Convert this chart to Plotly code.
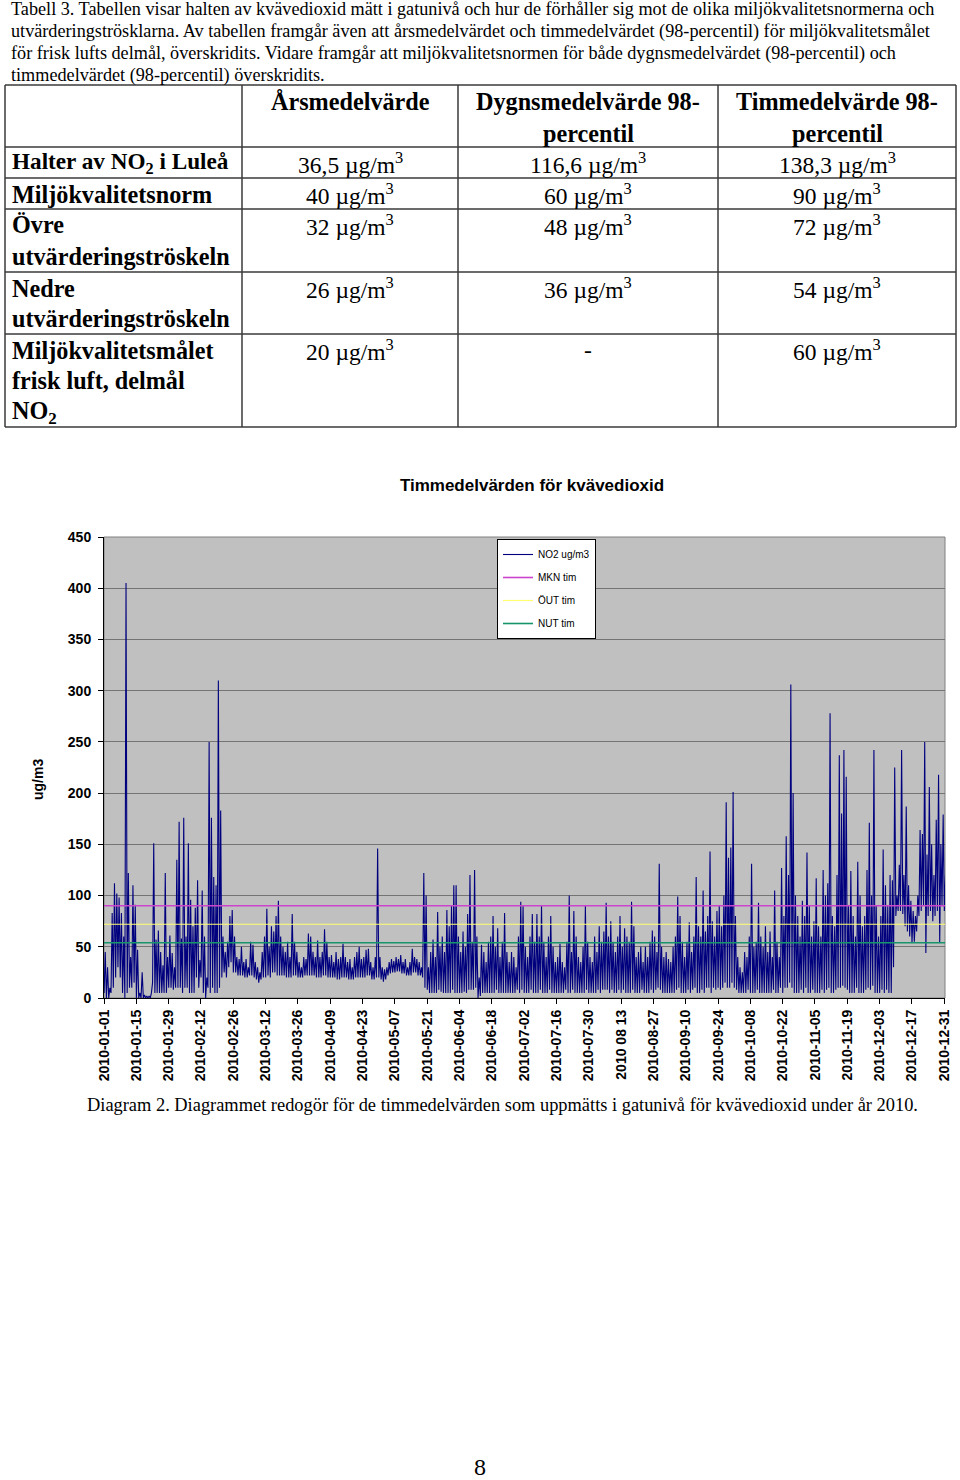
import pandas as pd
import plotly.graph_objects as go

# ---------------- data ----------------
START_DATE = "2010-01-01"
# daily maximum hourly NO2 (ug/m3), Jan 1 .. Dec 31
DAILY_MAX = [
    45, 30, 10, 83, 112, 102, 98,
    83, 60, 405, 122, 40, 110, 91,
    47, 5, 25, 3, 2, 2, 5,
    151, 57, 66, 45, 32, 122, 40,
    61, 44, 30, 135, 172, 58, 176,
    60, 151, 96, 70, 88, 115, 37,
    105, 60, 20, 250, 176, 118, 110,
    310, 183, 60, 45, 55, 80, 86,
    60, 40, 38, 50, 35, 38, 30,
    55, 52, 35, 30, 25, 45, 60,
    87, 50, 70, 65, 80, 95, 60,
    50, 45, 55, 40, 82, 55, 45,
    35, 30, 40, 38, 63, 60, 45,
    40, 56, 40, 45, 67, 55, 40,
    42, 35, 45, 38, 40, 53, 40,
    35, 38, 30, 40, 45, 50, 38,
    40, 47, 48, 35, 30, 40, 146,
    40, 30, 28, 30, 35, 38, 36,
    40, 38, 42, 35, 38, 30, 35,
    48, 40, 38, 35, 30, 122, 100,
    30, 45, 57, 40, 84, 50, 60,
    45, 86, 70, 90, 110, 110, 60,
    45, 65, 50, 82, 120, 55, 125,
    60, 20, 52, 45, 35, 55, 60,
    80, 50, 68, 40, 55, 83, 45,
    35, 45, 40, 30, 60, 94, 90,
    50, 40, 60, 82, 55, 82, 60,
    90, 55, 40, 60, 80, 50, 35,
    40, 53, 35, 30, 55, 100, 45,
    85, 60, 40, 35, 50, 90, 55,
    40, 35, 60, 45, 70, 55, 65,
    93, 60, 75, 55, 45, 60, 80,
    50, 68, 60, 55, 94, 70, 40,
    45, 50, 35, 50, 40, 55, 66,
    60, 45, 131, 50, 40, 45, 38,
    35, 50, 60, 99, 80, 55, 40,
    55, 74, 45, 60, 118, 70, 60,
    105, 65, 80, 143, 75, 60, 85,
    90, 70, 100, 191, 137, 147, 201,
    80, 40, 30, 25, 45, 40, 60,
    131, 50, 55, 93, 60, 50, 70,
    45, 65, 40, 105, 55, 40, 127,
    80, 158, 120, 306, 200, 100, 80,
    60, 95, 80, 142, 90, 60, 75,
    117, 70, 60, 125, 100, 112, 278,
    80, 70, 120, 237, 180, 242, 216,
    90, 124, 80, 60, 133, 100, 70,
    80, 125, 171, 100, 242, 90, 60,
    80, 145, 110, 90, 120, 115, 225,
    100, 130, 242, 120, 187, 110, 95,
    85, 80, 100, 164, 160, 250, 140,
    206, 150, 120, 174, 218, 150, 179,
    120,
]
# daily minimum hourly NO2 (ug/m3)
DAILY_MIN = [
    5, 0, 0, 5, 10, 20, 30,
    20, 5, 0, 5, 10, 10, 15,
    0, 0, 0, 0, 0, 0, 0,
    15, 5, 5, 5, 5, 5, 5,
    10, 10, 8, 10, 10, 10, 5,
    10, 10, 5, 5, 5, 20, 10,
    20, 5, 0, 10, 5, 10, 5,
    5, 10, 20, 25, 20, 30, 35,
    25, 25, 22, 22, 22, 20, 20,
    22, 22, 20, 18, 15, 18, 20,
    20, 22, 20, 25, 25, 22, 22,
    22, 22, 20, 20, 20, 22, 22,
    20, 20, 20, 22, 22, 22, 22,
    22, 20, 20, 20, 22, 22, 20,
    20, 20, 20, 18, 18, 20, 20,
    20, 18, 18, 18, 20, 20, 20,
    20, 20, 22, 22, 18, 18, 20,
    20, 18, 16, 18, 22, 24, 25,
    25, 26, 26, 24, 24, 22, 22,
    22, 25, 25, 22, 22, 20, 10,
    8, 5, 5, 5, 5, 8, 6,
    5, 5, 5, 5, 8, 5, 5,
    5, 5, 6, 5, 8, 8, 8,
    10, 0, 2, 5, 5, 5, 5,
    5, 5, 8, 5, 5, 5, 5,
    5, 5, 5, 5, 8, 5, 8,
    5, 5, 5, 8, 5, 5, 5,
    8, 5, 5, 5, 8, 5, 5,
    5, 5, 5, 5, 8, 5, 5,
    8, 5, 5, 5, 5, 5, 8,
    5, 5, 5, 5, 8, 5, 8,
    8, 8, 5, 8, 5, 5, 8,
    5, 8, 5, 5, 5, 8, 5,
    5, 5, 8, 5, 5, 5, 8,
    5, 8, 10, 8, 5, 5, 5,
    5, 5, 5, 8, 10, 5, 5,
    5, 8, 5, 8, 10, 5, 5,
    8, 5, 10, 10, 5, 10, 8,
    10, 8, 10, 15, 10, 10, 15,
    10, 8, 5, 5, 5, 5, 8,
    5, 5, 5, 8, 5, 5, 5,
    5, 5, 5, 8, 5, 5, 10,
    5, 10, 10, 15, 10, 5, 5,
    5, 8, 5, 10, 5, 5, 8,
    5, 5, 5, 8, 5, 8, 10,
    5, 5, 8, 10, 10, 12, 10,
    8, 5, 5, 5, 10, 5, 5,
    5, 8, 10, 8, 12, 5, 5,
    5, 8, 5, 8, 5, 5, 30,
    80, 85, 85, 82, 70, 65, 60,
    54, 55, 65, 80, 85, 90, 44,
    80, 85, 75, 80, 85, 54, 90,
    85,
]
SERIES_NAME = "NO2 ug/m3"
LIMIT_NAMES = ["MKN tim", "ÖUT tim", "NUT tim"]
LIMIT_VALUES = [90, 72, 54]
LIMIT_COLORS = ["#CC44CC", "#FFFF70", "#17956A"]
TICK_DATES = ["2010-01-01", "2010-01-15", "2010-01-29", "2010-02-12", "2010-02-26",
              "2010-03-12", "2010-03-26", "2010-04-09", "2010-04-23", "2010-05-07",
              "2010-05-21", "2010-06-04", "2010-06-18", "2010-07-02", "2010-07-16",
              "2010-07-30", "2010-08-13", "2010-08-27", "2010-09-10", "2010-09-24",
              "2010-10-08", "2010-10-22", "2010-11-05", "2010-11-19", "2010-12-03",
              "2010-12-17", "2010-12-31"]
TICK_TEXT = [d if d != "2010-08-13" else "2010 08 13" for d in TICK_DATES]
END_DATE = "2010-12-31 08:00"

CHART_TITLE = "Timmedelvärden för kvävedioxid"
Y_TITLE = "ug/m3"

PARAGRAPH = [
    "Tabell 3. Tabellen visar halten av kvävedioxid mätt i gatunivå och hur de förhåller sig mot de olika miljökvalitetsnormerna och",
    "utvärderingströsklarna. Av tabellen framgår även att årsmedelvärdet och timmedelvärdet (98-percentil) för miljökvalitetsmålet",
    "för frisk lufts delmål, överskridits. Vidare framgår att miljökvalitetsnormen för både dygnsmedelvärdet (98-percentil) och",
    "timmedelvärdet (98-percentil) överskridits.",
]
CAPTION = "Diagram 2. Diagrammet redogör för de timmedelvärden som uppmätts i gatunivå för kvävedioxid under år 2010."
PAGE_NUMBER = "8"

TABLE_HEADERS = [[], ["Årsmedelvärde"], ["Dygnsmedelvärde 98-", "percentil"], ["Timmedelvärde 98-", "percentil"]]
ROW_LABELS = [
    ["Halter av NO<sub>2</sub> i Luleå"],
    ["Miljökvalitetsnorm"],
    ["Övre", "utvärderingströskeln"],
    ["Nedre", "utvärderingströskeln"],
    ["Miljökvalitetsmålet", "frisk luft, delmål", "NO<sub>2</sub>"],
]
ARSMEDEL = ["36,5", "40", "32", "26", "20"]
DYGNSMEDEL = ["116,6", "60", "48", "36", "-"]
TIMMEDEL = ["138,3", "90", "72", "54", "60"]
UNIT = " µg/m<sup>3</sup>"

# ---------------- layout helpers ----------------
W, H = 960, 1480
def px(x):
    return x / W
def py(y):
    return 1 - y / H

PLOT_L, PLOT_R, PLOT_T, PLOT_B = 104, 945, 537, 998

# ---------------- figure ----------------
base = pd.Timestamp(START_DATE)
xs, ys = [], []
for d, (lo, hi) in enumerate(zip(DAILY_MIN, DAILY_MAX)):
    xs.append(base + pd.Timedelta(days=d, hours=1))
    ys.append(lo)
    xs.append(base + pd.Timedelta(days=d, hours=13))
    ys.append(hi)

sans = "Liberation Sans, Arial"
serif = "Liberation Serif, Times New Roman, serif"

fig = go.Figure()
fig.add_trace(go.Scatter(x=xs, y=ys, mode="lines", name=SERIES_NAME,
                         line=dict(color="#00007F", width=1.1),
                         legendgroup="a"))
for i, (nm, v, c) in enumerate(zip(LIMIT_NAMES, LIMIT_VALUES, LIMIT_COLORS)):
    fig.add_trace(go.Scatter(x=[base, pd.Timestamp(END_DATE)], y=[v, v], mode="lines",
                             name=nm, line=dict(color=c, width=1.6 if i != 1 else 1.2),
                             legendgroup="g%d" % i))

fig.update_layout(
    width=W, height=H,
    margin=dict(l=0, r=0, t=0, b=0, pad=0, autoexpand=False),
    paper_bgcolor="white",
    plot_bgcolor="#C0C0C0",
    showlegend=True,
    legend=dict(x=px(497), y=py(539), xanchor="left", yanchor="top",
                bgcolor="white", bordercolor="black", borderwidth=1,
                font=dict(family=sans, size=10, color="black"),
                traceorder="grouped", tracegroupgap=4),
    title=dict(text=CHART_TITLE, x=px(532), y=py(485), xanchor="center", yanchor="middle",
               font=dict(family=sans, size=17, color="black", weight="bold")),
    xaxis=dict(domain=[px(PLOT_L), px(PLOT_R)], type="date", automargin=False,
               range=[START_DATE, END_DATE],
               tickvals=TICK_DATES, ticktext=TICK_TEXT, tickangle=-90,
               tickfont=dict(family=sans, size=14, color="black", weight="bold"),
               showgrid=False, zeroline=False,
               showline=True, linecolor="black", linewidth=1,
               ticks="outside", ticklen=5, tickcolor="black"),
    yaxis=dict(domain=[py(PLOT_B), py(PLOT_T)], range=[0, 450], dtick=50, automargin=False,
               tickfont=dict(family=sans, size=14, color="black", weight="bold"),
               showgrid=True, gridcolor="#747474", gridwidth=1, zeroline=False,
               showline=True, linecolor="black", linewidth=1,
               ticks="outside", ticklen=5, tickcolor="black", ticklabelstandoff=4),
)

shapes = []
annotations = []
# plot border (top/right)
shapes.append(dict(type="rect", xref="x domain", yref="y domain", x0=0, x1=1, y0=0, y1=1,
                   line=dict(color="#808080", width=1), layer="below"))

annotations.append(dict(text="<b>" + Y_TITLE + "</b>", x=px(38), y=py(780), xref="paper", yref="paper",
                        textangle=-90, showarrow=False, xanchor="center", yanchor="middle",
                        font=dict(family=sans, size=14, color="black")))

# paragraph
for i, line in enumerate(PARAGRAPH):
    annotations.append(dict(text=line, x=px(9), y=py(9.5 + 22 * i), xref="paper", yref="paper",
                            showarrow=False, xanchor="left", yanchor="middle",
                            font=dict(family=serif, size=18.2, color="black")))

# table grid
COL_EDGES = [5, 242, 458, 718, 956]
ROW_EDGES = [85, 147, 178, 209, 272, 334, 427]
LINE_PITCH = 31
for x in COL_EDGES:
    shapes.append(dict(type="line", xref="paper", yref="paper", x0=px(x), x1=px(x),
                       y0=py(ROW_EDGES[0]), y1=py(ROW_EDGES[-1]), line=dict(color="#3a3a3a", width=1.5)))
for y in ROW_EDGES:
    shapes.append(dict(type="line", xref="paper", yref="paper", x0=px(COL_EDGES[0]), x1=px(COL_EDGES[-1]),
                       y0=py(y), y1=py(y), line=dict(color="#3a3a3a", width=1.5)))

bfont = 24.2
vfont = 23.5
for c, lines in enumerate(TABLE_HEADERS):
    cx = (COL_EDGES[c] + COL_EDGES[c + 1]) / 2
    for j, t in enumerate(lines):
        annotations.append(dict(text="<b>" + t + "</b>", x=px(cx), y=py(ROW_EDGES[0] + 17 + LINE_PITCH * j),
                                xref="paper", yref="paper", showarrow=False, xanchor="center", yanchor="middle",
                                font=dict(family=serif, size=bfont, color="black")))

for r, lines in enumerate(ROW_LABELS):
    top = ROW_EDGES[r + 1]
    for j, t in enumerate(lines):
        annotations.append(dict(text="<b>" + t + "</b>", x=px(10), y=py(top + 16 + LINE_PITCH * j),
                                xref="paper", yref="paper", showarrow=False, xanchor="left", yanchor="middle",
                                font=dict(family=serif, size=bfont if "<sub>" not in t or j > 0 else 23.2,
                                          color="black")))
    for c, col in enumerate([ARSMEDEL, DYGNSMEDEL, TIMMEDEL]):
        cx = (COL_EDGES[c + 1] + COL_EDGES[c + 2]) / 2
        v = col[r]
        txt = v if v == "-" else v + UNIT
        annotations.append(dict(text=txt, x=px(cx), y=py(top + 16),
                                xref="paper", yref="paper", showarrow=False, xanchor="center", yanchor="middle",
                                font=dict(family=serif, size=vfont, color="black")))

annotations.append(dict(text=CAPTION, x=px(85), y=py(1105), xref="paper", yref="paper",
                        showarrow=False, xanchor="left", yanchor="middle",
                        font=dict(family=serif, size=18.4, color="black")))
annotations.append(dict(text=PAGE_NUMBER, x=px(480), y=py(1467), xref="paper", yref="paper",
                        showarrow=False, xanchor="center", yanchor="middle",
                        font=dict(family=serif, size=24, color="black")))

fig.update_layout(shapes=shapes, annotations=annotations)
fig.write_html("out.html",
               config={"displayModeBar": False},
               post_script="document.body.style.margin='0';document.body.style.padding='0';"
                           "document.documentElement.style.overflow='hidden';")
